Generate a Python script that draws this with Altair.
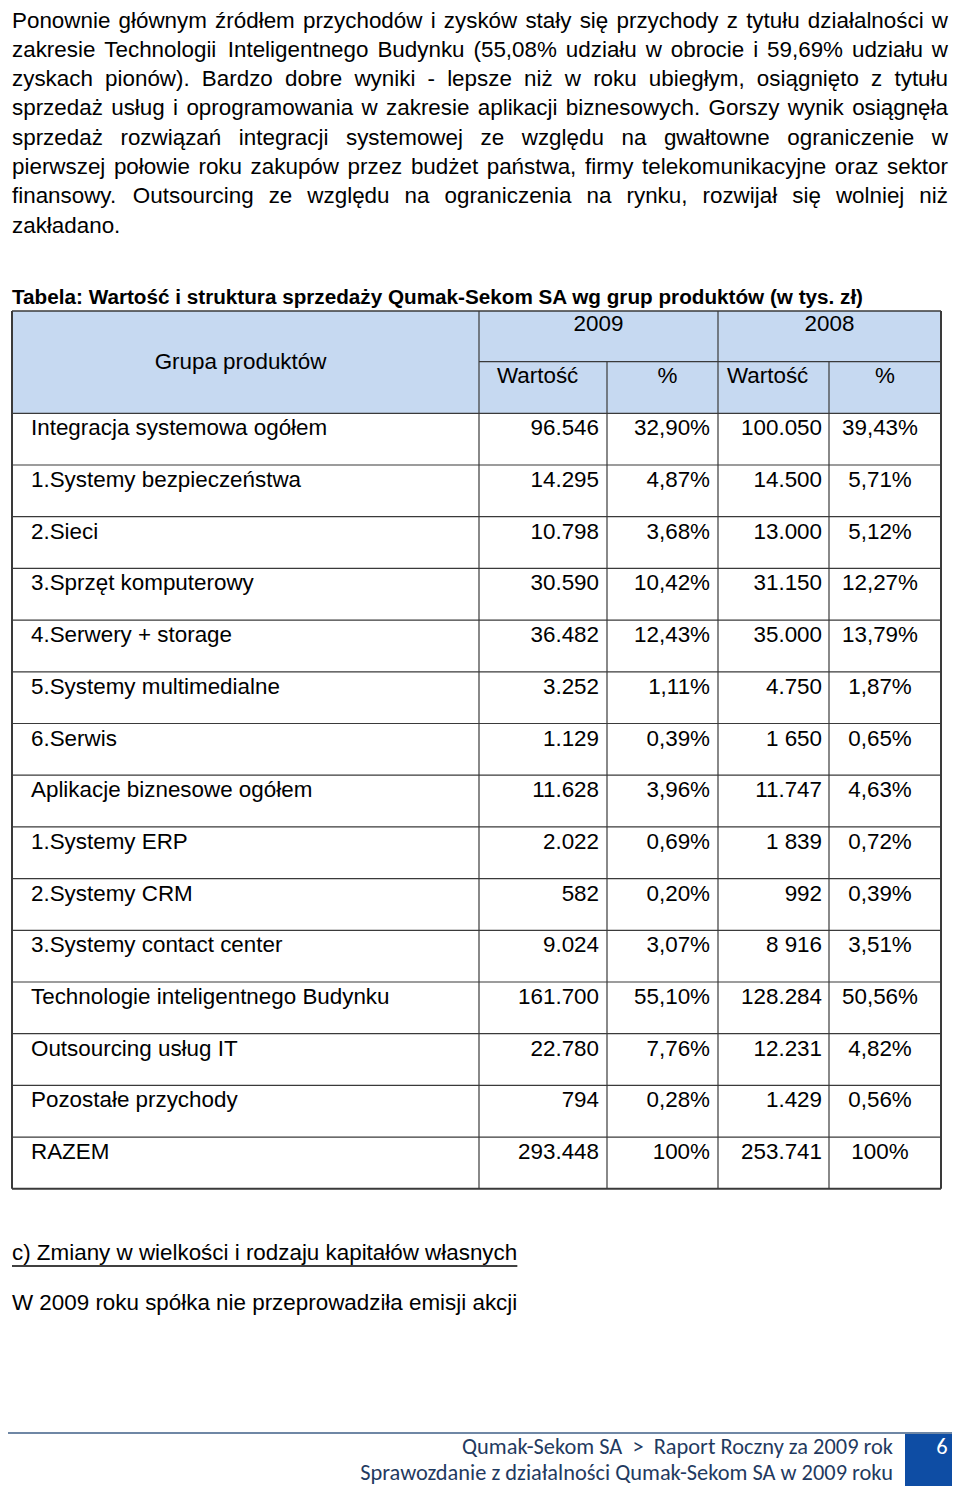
import altair as alt
import pandas as pd

# ---------------- data ----------------
paragraph = [
    "Ponownie głównym źródłem przychodów i zysków stały się przychody z tytułu działalności w",
    "zakresie Technologii Inteligentnego Budynku (55,08% udziału w obrocie i 59,69% udziału w",
    "zyskach pionów). Bardzo dobre wyniki - lepsze niż w roku ubiegłym, osiągnięto z tytułu",
    "sprzedaż usług i oprogramowania w zakresie aplikacji biznesowych. Gorszy wynik osiągnęła",
    "sprzedaż rozwiązań integracji systemowej ze względu na gwałtowne ograniczenie w",
    "pierwszej połowie roku zakupów przez budżet państwa, firmy telekomunikacyjne oraz sektor",
    "finansowy. Outsourcing ze względu na ograniczenia na rynku, rozwijał się wolniej niż",
    "zakładano.",
]
table_title = "Tabela: Wartość i struktura sprzedaży Qumak-Sekom SA wg grup produktów (w tys. zł)"
header_group = "Grupa produktów"
years = ["2009", "2008"]
sub_headers = ["Wartość", "%", "Wartość", "%"]

categories = [
    "Integracja systemowa ogółem", "1.Systemy bezpieczeństwa", "2.Sieci",
    "3.Sprzęt komputerowy", "4.Serwery + storage", "5.Systemy multimedialne",
    "6.Serwis", "Aplikacje biznesowe ogółem", "1.Systemy ERP", "2.Systemy CRM",
    "3.Systemy contact center", "Technologie inteligentnego Budynku",
    "Outsourcing usług IT", "Pozostałe przychody", "RAZEM",
]
val_2009 = ["96.546", "14.295", "10.798", "30.590", "36.482", "3.252", "1.129",
            "11.628", "2.022", "582", "9.024", "161.700", "22.780", "794", "293.448"]
pct_2009 = ["32,90%", "4,87%", "3,68%", "10,42%", "12,43%", "1,11%", "0,39%",
            "3,96%", "0,69%", "0,20%", "3,07%", "55,10%", "7,76%", "0,28%", "100%"]
val_2008 = ["100.050", "14.500", "13.000", "31.150", "35.000", "4.750", "1 650",
            "11.747", "1 839", "992", "8 916", "128.284", "12.231", "1.429", "253.741"]
pct_2008 = ["39,43%", "5,71%", "5,12%", "12,27%", "13,79%", "1,87%", "0,65%",
            "4,63%", "0,72%", "0,39%", "3,51%", "50,56%", "4,82%", "0,56%", "100%"]

section_heading = "c) Zmiany w wielkości i rodzaju kapitałów własnych"
section_text = "W 2009 roku spółka nie przeprowadziła emisji akcji"
footer_line1 = "Qumak-Sekom SA\u00a0\u00a0>\u00a0\u00a0Raport Roczny za 2009 rok"
footer_line2 = "Sprawozdanie z działalności Qumak-Sekom SA w 2009 roku"
page_number = "6"

# ---------------- layout ----------------
W, H = 944, 1478
FONT = "Liberation Sans, Arial, sans-serif"
FS = 22.4
LEFT, RIGHT = 12, 948
LINE0, LINE_H = 20.5, 29.3

TBL_L, TBL_R = 12, 941
COLS = [12, 479, 607, 718, 829, 941]
HDR_TOP, HDR_MID, HDR_BOT = 311, 361.7, 413.3
ROW_H = 51.7
GRID = "#3a3a3a"

# Arial (Helvetica) advance widths, per 1000 em
AW = {' ': 278, 'a': 556, 'b': 556, 'c': 500, 'd': 556, 'e': 556, 'f': 278, 'g': 556,
      'h': 556, 'i': 222, 'j': 222, 'k': 500, 'l': 222, 'm': 833, 'n': 556, 'o': 556,
      'p': 556, 'q': 556, 'r': 333, 's': 500, 't': 278, 'u': 556, 'v': 500, 'w': 722,
      'x': 500, 'y': 500, 'z': 500, 'A': 667, 'B': 667, 'C': 722, 'D': 722, 'E': 667,
      'F': 611, 'G': 778, 'H': 722, 'I': 278, 'J': 500, 'K': 667, 'L': 556, 'M': 833,
      'N': 722, 'O': 778, 'P': 667, 'Q': 778, 'R': 722, 'S': 667, 'T': 611, 'U': 722,
      'V': 667, 'W': 944, 'X': 667, 'Y': 667, 'Z': 611, '.': 278, ',': 278, '-': 333,
      '(': 333, ')': 333, '%': 889, ':': 278, 'ą': 556, 'ć': 500, 'ę': 556, 'ł': 222,
      'ń': 556, 'ó': 556, 'ś': 500, 'ź': 500, 'ż': 500}


def tw(s, fs):
    return sum(AW.get(ch, 556) for ch in s) / 1000 * fs


# paragraph words (justified except the last line)
words = []
for i, line in enumerate(paragraph):
    y = LINE0 + i * LINE_H
    parts = line.split(" ")
    if i < len(paragraph) - 1 and len(parts) > 1:
        widths = [tw(p, FS) for p in parts]
        gap = (RIGHT - LEFT - sum(widths)) / (len(parts) - 1)
        x = LEFT
        for p, w in zip(parts, widths):
            words.append({"x": x, "y": y, "t": p})
            x += w + gap
    else:
        words.append({"x": LEFT, "y": y, "t": line})
para_df = pd.DataFrame(words)

xs = alt.Scale(domain=[8, 8 + W], zero=False, nice=False)
ys = alt.Scale(domain=[8, 8 + H], zero=False, nice=False, reverse=True)


def X(f="x"):
    return alt.X(f"{f}:Q", scale=xs, axis=None)


def Y(f="y"):
    return alt.Y(f"{f}:Q", scale=ys, axis=None)


def text_layer(df, align="left", size=FS, weight="normal", color="#000000", font=FONT):
    return alt.Chart(df).mark_text(
        align=align, baseline="middle", fontSize=size, fontWeight=weight,
        color=color, font=font
    ).encode(x=X(), y=Y(), text="t:N")


layers = []

# header background
hdr_bg = pd.DataFrame([{"x": TBL_L, "x2": TBL_R, "y": HDR_TOP, "y2": HDR_BOT}])
layers.append(alt.Chart(hdr_bg).mark_rect(color="#C6D9F1").encode(
    x=X(), x2="x2:Q", y=Y(), y2="y2:Q"))

# grid lines
n = len(categories)
bottom = HDR_BOT + n * ROW_H
hlines = [{"x": TBL_L, "x2": TBL_R, "y": HDR_TOP, "y2": HDR_TOP, "w": 1.5},
          {"x": COLS[1], "x2": TBL_R, "y": HDR_MID, "y2": HDR_MID, "w": 1.2}]
for i in range(n + 1):
    yy = HDR_BOT + i * ROW_H
    hlines.append({"x": TBL_L, "x2": TBL_R, "y": yy, "y2": yy, "w": 2 if i == n else 1.2})
vlines = [
    {"x": COLS[0], "x2": COLS[0], "y": HDR_TOP, "y2": bottom, "w": 2},
    {"x": COLS[1], "x2": COLS[1], "y": HDR_TOP, "y2": bottom, "w": 1.2},
    {"x": COLS[2], "x2": COLS[2], "y": HDR_MID, "y2": bottom, "w": 1.2},
    {"x": COLS[3], "x2": COLS[3], "y": HDR_TOP, "y2": bottom, "w": 1.2},
    {"x": COLS[4], "x2": COLS[4], "y": HDR_MID, "y2": bottom, "w": 1.2},
    {"x": COLS[5], "x2": COLS[5], "y": HDR_TOP, "y2": bottom, "w": 2},
]
lines_df = pd.DataFrame(hlines + vlines)
layers.append(alt.Chart(lines_df).mark_rule(color=GRID).encode(
    x=X(), x2="x2:Q", y=Y(), y2="y2:Q",
    strokeWidth=alt.StrokeWidth("w:Q", scale=None)))

# paragraph
layers.append(text_layer(para_df))

# table title
layers.append(text_layer(pd.DataFrame([{"x": 12, "y": 298, "t": table_title}]),
                         size=20.7, weight="bold"))

# header texts
hdr_center = pd.DataFrame([
    {"x": (COLS[0] + COLS[1]) / 2 - 5, "y": 362, "t": header_group},
    {"x": (COLS[1] + COLS[3]) / 2, "y": 324, "t": years[0]},
    {"x": (COLS[3] + COLS[5]) / 2, "y": 324, "t": years[1]},
    {"x": (COLS[2] + COLS[3]) / 2 + 5, "y": 376, "t": sub_headers[1]},
    {"x": (COLS[4] + COLS[5]) / 2, "y": 376, "t": sub_headers[3]},
])
layers.append(text_layer(hdr_center, align="center"))
hdr_left = pd.DataFrame([
    {"x": COLS[1] + 18, "y": 376, "t": sub_headers[0]},
    {"x": COLS[3] + 9, "y": 376, "t": sub_headers[2]},
])
layers.append(text_layer(hdr_left))

# table body
row_y = [HDR_BOT + 15 + i * ROW_H for i in range(n)]
lab_df = pd.DataFrame({"x": [31] * n, "y": row_y, "t": categories})
layers.append(text_layer(lab_df))
right_df = pd.DataFrame(
    {"x": [COLS[2] - 8] * n + [COLS[3] - 8] * n + [COLS[4] - 7] * n,
     "y": row_y * 3,
     "t": val_2009 + pct_2009 + val_2008})
layers.append(text_layer(right_df, align="right"))
center_df = pd.DataFrame({"x": [(COLS[4] + COLS[5]) / 2 - 5] * n, "y": row_y, "t": pct_2008})
layers.append(text_layer(center_df, align="center"))

# section c
layers.append(text_layer(pd.DataFrame([
    {"x": 12, "y": 1253, "t": section_heading},
    {"x": 12, "y": 1303, "t": section_text},
])))
underline = pd.DataFrame([{"x": 12, "x2": 12 + tw(section_heading, FS), "y": 1266, "y2": 1266}])
layers.append(alt.Chart(underline).mark_rule(color="#000000", strokeWidth=1.5).encode(
    x=X(), x2="x2:Q", y=Y(), y2="y2:Q"))

# footer
foot_line = pd.DataFrame([{"x": 0, "x2": 960, "y": 1433, "y2": 1433}])
layers.append(alt.Chart(foot_line).mark_rule(color="#3F5F87", strokeWidth=1.5).encode(
    x=X(), x2="x2:Q", y=Y(), y2="y2:Q"))
foot_box = pd.DataFrame([{"x": 905, "x2": 960, "y": 1434, "y2": 1494}])
layers.append(alt.Chart(foot_box).mark_rect(color="#0E4DA4").encode(
    x=X(), x2="x2:Q", y=Y(), y2="y2:Q"))
FFONT = "Carlito, Lato, sans-serif"
layers.append(text_layer(pd.DataFrame([
    {"x": 893, "y": 1447, "t": footer_line1},
    {"x": 893, "y": 1473, "t": footer_line2},
]), align="right", size=22.4, color="#1F3A60", font=FFONT))
layers.append(text_layer(pd.DataFrame([{"x": 942, "y": 1447, "t": page_number}]),
                         align="center", size=22.4, color="#FFFFFF", font=FFONT))

chart = alt.layer(*layers).properties(
    width=W, height=H, padding=0, autosize=alt.AutoSizeParams(type="none")
).configure_view(stroke=None)

chart.save("out.html", embed_options={"renderer": "svg", "actions": False})
